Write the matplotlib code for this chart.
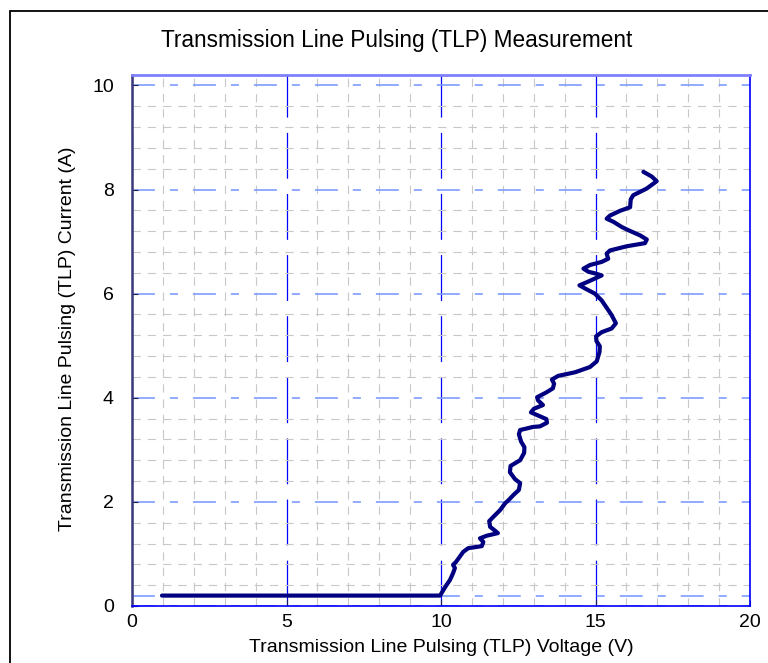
import numpy as np
import matplotlib
matplotlib.use('Agg')
import matplotlib.pyplot as plt
from matplotlib.ticker import MultipleLocator
from matplotlib.patches import Rectangle

plt.rcParams['font.family'] = ['Liberation Sans', 'DejaVu Sans']
plt.rcParams['lines.scale_dashes'] = False

# TLP curve (voltage V, current A)
voltage = [0.97, 9.97, 10.13, 10.29, 10.39, 10.45, 10.39, 10.49, 10.72, 10.88,
           11.32, 11.37, 11.26, 11.48, 11.84, 11.72, 11.59, 11.56, 11.69, 11.91,
           12.07, 12.18, 12.34, 12.52, 12.56, 12.39, 12.23, 12.25, 12.56, 12.69,
           12.70, 12.59, 12.52, 12.56, 12.98, 13.20, 13.43, 13.41, 13.10, 12.91,
           13.01, 13.30, 13.14, 13.11, 13.40, 13.62, 13.66, 13.59, 13.79, 14.34,
           14.82, 15.04, 15.13, 15.14, 15.03, 15.02, 15.20, 15.52, 15.66, 15.52,
           15.20, 14.98, 14.66, 14.48, 14.72, 14.98, 15.20, 14.98, 14.77, 14.61,
           14.82, 15.20, 15.41, 15.36, 15.47, 16.01, 16.60, 16.66, 16.44, 16.06,
           15.85, 15.58, 15.36, 15.47, 15.79, 16.12, 16.14, 16.22, 16.66, 16.98,
           16.82, 16.55]
current = [0.20, 0.20, 0.36, 0.50, 0.63, 0.73, 0.79, 0.85, 1.04, 1.11,
           1.15, 1.23, 1.30, 1.35, 1.40, 1.46, 1.52, 1.63, 1.71, 1.84,
           1.97, 2.03, 2.13, 2.23, 2.36, 2.44, 2.57, 2.69, 2.80, 2.94,
           3.05, 3.16, 3.30, 3.38, 3.44, 3.45, 3.52, 3.59, 3.67, 3.72,
           3.79, 3.86, 3.95, 4.01, 4.10, 4.18, 4.27, 4.35, 4.42, 4.49,
           4.59, 4.70, 4.88, 4.99, 5.09, 5.18, 5.26, 5.33, 5.43, 5.59,
           5.87, 6.00, 6.10, 6.16, 6.22, 6.29, 6.35, 6.39, 6.42, 6.48,
           6.55, 6.61, 6.67, 6.77, 6.83, 6.91, 6.97, 7.04, 7.12, 7.22,
           7.28, 7.38, 7.44, 7.50, 7.59, 7.66, 7.81, 7.89, 8.02, 8.16,
           8.25, 8.34]
ref_level = 0.2

xticks = [0, 5, 10, 15, 20]
yticks = [0, 2, 4, 6, 8, 10]

fig = plt.figure(figsize=(7.68, 6.63), dpi=100)
# outer chart frame, runs off the right and bottom edges
fig.patches.append(Rectangle((10/768, -0.1), 1.2, 1.1 - 11/663,
                             transform=fig.transFigure, fill=False,
                             edgecolor='black', lw=1.3))
ax = fig.add_axes([132/768, 57/663, 618/768, 531/663])

ax.set_xlim(0, 20)
ax.set_ylim(0, 10.2)
ax.set_xticks(xticks)
ax.set_yticks(yticks)
ax.xaxis.set_minor_locator(MultipleLocator(1))
ax.yaxis.set_minor_locator(MultipleLocator(0.4))

# grids
ax.grid(which='minor', axis='both', color='#c8c8c8', lw=0.8,
        linestyle=(0, (6, 5)))
ax.grid(which='major', axis='x', color='#0000ff', lw=0.9,
        linestyle=(0, (33, 11)))
ax.grid(which='major', axis='y', color='#7f9cff', lw=1.2,
        linestyle=(0, (16.5, 10.8, 5.8, 10.8)))
ax.axhline(ref_level, color='#7f9cff', lw=1.2,
           linestyle=(0, (16.5, 10.8, 5.8, 10.8)), zorder=1.5)
ax.set_axisbelow(True)

ax.plot(voltage, current, color='#000080', lw=3, solid_capstyle='round',
        solid_joinstyle='round', zorder=3)

for s in ['right', 'bottom']:
    ax.spines[s].set_color('#0000ff')
    ax.spines[s].set_linewidth(1.2)
ax.spines['top'].set_color('#8080ff')
ax.spines['top'].set_linewidth(2.0)
ax.spines['left'].set_color('#3a3a7a')
ax.spines['left'].set_linewidth(1.8)

ax.tick_params(which='major', direction='in', length=4, color='#202040',
               labelsize=14)
ax.tick_params(which='minor', length=0)
ax.tick_params(axis='x', pad=6)
ax.tick_params(axis='y', pad=13)

ax.set_xlabel('Transmission Line Pulsing (TLP) Voltage (V)', fontsize=14)
ax.set_ylabel('Transmission Line Pulsing (TLP) Current (A)', fontsize=14)
ax.xaxis.set_label_coords(0.5, -0.062)
ax.yaxis.set_label_coords(-0.09, 0.503)

fig.text(397/768, 1 - 40/663, 'Transmission Line Pulsing (TLP) Measurement',
         ha='center', va='center', fontsize=16.3)

fig.savefig('out.png', dpi=100)
